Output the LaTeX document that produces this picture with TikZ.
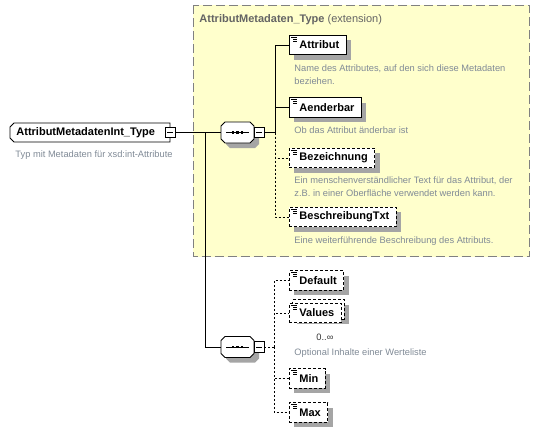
\documentclass[tikz,border=0pt]{standalone}
\usepackage{fontspec}
\setmainfont{Liberation Sans}
\definecolor{boxyellow}{RGB}{255,255,204}
\definecolor{boxborder}{RGB}{128,128,128}
\definecolor{titlegray}{RGB}{100,100,100}
\definecolor{descgray}{RGB}{128,138,150}
\definecolor{shadowgray}{RGB}{165,165,165}
% element box with its drop shadow: style, name, x, y, text
\newcommand\mkelem[5]{%
  \node[#1, draw=none, fill=shadowgray] at (#3+5,#4+5) {\hspace*{10pt}\phantom{#5}\hspace*{7pt}};
  \node[#1] (#2) at (#3,#4) {\hspace*{10pt}#5\hspace*{7pt}};
  \draw[line width=0.7pt] (#2.north west) ++(2,2.5) -- ++(6,0);
  \draw[line width=0.7pt] (#2.north west) ++(4,4.5) -- ++(4,0);
  \draw[line width=0.7pt] (#2.north west) ++(4,6.5) -- ++(4,0);
}
% sequence compositor: name, x, y (centre)
\newcommand\mkseq[3]{%
  \begin{scope}[shift={(#2,#3)}]
    \fill[shadowgray] (-12.5+5,-10.5+5) -- (12.5+5,-10.5+5) -- (16.5+5,-6.5+5) -- (16.5+5,6.5+5) -- (12.5+5,10.5+5) -- (-12.5+5,10.5+5) -- (-16.5+5,6.5+5) -- (-16.5+5,-6.5+5) -- cycle;
    \draw[fill=white] (-12.5,-10.5) -- (12.5,-10.5) -- (16.5,-6.5) -- (16.5,6.5) -- (12.5,10.5) -- (-12.5,10.5) -- (-16.5,6.5) -- (-16.5,-6.5) -- cycle;
    \draw (-11.5,0) -- (11.5,0);
    \foreach \dx in {-4.5,0,4.5} \fill (\dx-1.3,-1.3) rectangle (\dx+1.3,1.3);
  \end{scope}
  \node[minimum width=33pt, minimum height=21pt, inner sep=0pt] (#1) at (#2,#3) {};
  \node[minusbox] (#1m) at (#2+21.5,#3) {};
  \draw (#1m.center) ++(-3,0) -- ++(6,0);
}
\begin{document}
\begin{tikzpicture}[x=1pt,y=-1pt,line width=0.9pt,
  lbl/.style={font=\bfseries\fontsize{11}{13}\selectfont},
  elem/.style={draw, fill=white, lbl, anchor=west, minimum height=19.5pt, inner ysep=0pt, inner xsep=0pt},
  optelem/.style={elem, dash pattern=on 3pt off 2pt},
  desc/.style={font=\fontsize{9.3}{12.5}\selectfont, text=descgray, anchor=base west, align=left, inner sep=0pt},
  minusbox/.style={draw, fill=white, minimum width=10pt, minimum height=10.5pt, inner sep=0pt},
  optconn/.style={dash pattern=on 2pt off 2pt}]
\useasboundingbox (0,0) rectangle (540,432);
% extension frame
\draw[boxborder, fill=boxyellow, dash pattern=on 9pt off 4pt] (193,5) rectangle (529.5,256.5);
\node[anchor=base west, inner sep=0pt, text=titlegray, font=\fontsize{11}{13}\selectfont] (title) at (199,22) {\textbf{AttributMetadaten\_Type} (extension)};

% root
\draw[fill=white] (14,123) -- (170,123) -- (170,142) -- (14,142) -- (10,138) -- (10,127) -- cycle;
\node[lbl, minimum height=19pt, inner xsep=6pt, inner ysep=0pt, anchor=west] (root) at (10,132.5) {AttributMetadatenInt\_Type};
\node[minusbox] (rootm) at (170,132.5) {};
\draw (rootm.center) ++(-3,0) -- ++(6,0);
\node[desc] (rootd) at (15,157.5) {Typ mit Metadaten für xsd:int-Attribute};

% sequences
\mkseq{seq1}{237.5}{132.5}
\mkseq{seq2}{237.5}{347}

% elements of sequence 1
\mkelem{elem}{attr}{289}{45}{Attribut}
\node[desc] (attrd) at (294,84) {Name des Attributes, auf den sich diese Metadaten\\beziehen.};
\mkelem{elem}{aend}{289}{107.5}{Aenderbar}
\node[desc] (aendd) at (294,133) {Ob das Attribut änderbar ist};
\mkelem{optelem}{bez}{289}{158}{Bezeichnung}
\node[desc] (bezd) at (294,196) {Ein menschenverständlicher Text für das Attribut, der\\z.B. in einer Oberfläche verwendet werden kann.};
\mkelem{optelem}{besch}{289}{217}{BeschreibungTxt}
\node[desc] (beschd) at (294,243.5) {Eine weiterführende Beschreibung des Attributs.};

% elements of sequence 2
\mkelem{optelem}{def}{289}{280.5}{Default}
\node[optelem, draw=none, fill=shadowgray] at (297,314.5) {\hspace*{10pt}\phantom{Values}\hspace*{7pt}};
\node[optelem] (valb) at (292,309.5) {\hspace*{10pt}\phantom{Values}\hspace*{7pt}};
\node[optelem] (val) at (289,313) {\hspace*{10pt}Values\hspace*{7pt}};
\draw[line width=0.7pt] (val.north west) ++(2,2.5) -- ++(6,0);
\draw[line width=0.7pt] (val.north west) ++(4,4.5) -- ++(4,0);
\draw[line width=0.7pt] (val.north west) ++(4,6.5) -- ++(4,0);
\node[anchor=base west, inner sep=0pt, font=\fontsize{9.3}{11}\selectfont, text=black!80] (valm) at (316,340.5) {0..∞};
\node[desc] (vald) at (294,355.5) {Optional Inhalte einer Werteliste};
\mkelem{optelem}{min}{289}{378.5}{Min}
\mkelem{optelem}{max}{289}{412.5}{Max}

% connectors
\coordinate (j) at (205,132.5);
\coordinate (bus1) at (275,132.5);
\coordinate (bus2) at (274,347);
\draw (rootm.east) -- (seq1.west);
\draw (j) |- (seq2.west);
\draw (seq1m.east) -- (bus1);
\draw (bus1) |- (attr.west);
\draw (bus1) |- (aend.west);
\draw[optconn] (bus1) |- (bez.west);
\draw[optconn] (bus1) |- (besch.west);
\draw[optconn] (seq2m.east) -- (bus2);
\draw[optconn] (bus2) |- (def.west);
\draw[optconn] (bus2) |- (val.west);
\draw[optconn] (bus2) |- (min.west);
\draw[optconn] (bus2) |- (max.west);
\end{tikzpicture}
\end{document}
